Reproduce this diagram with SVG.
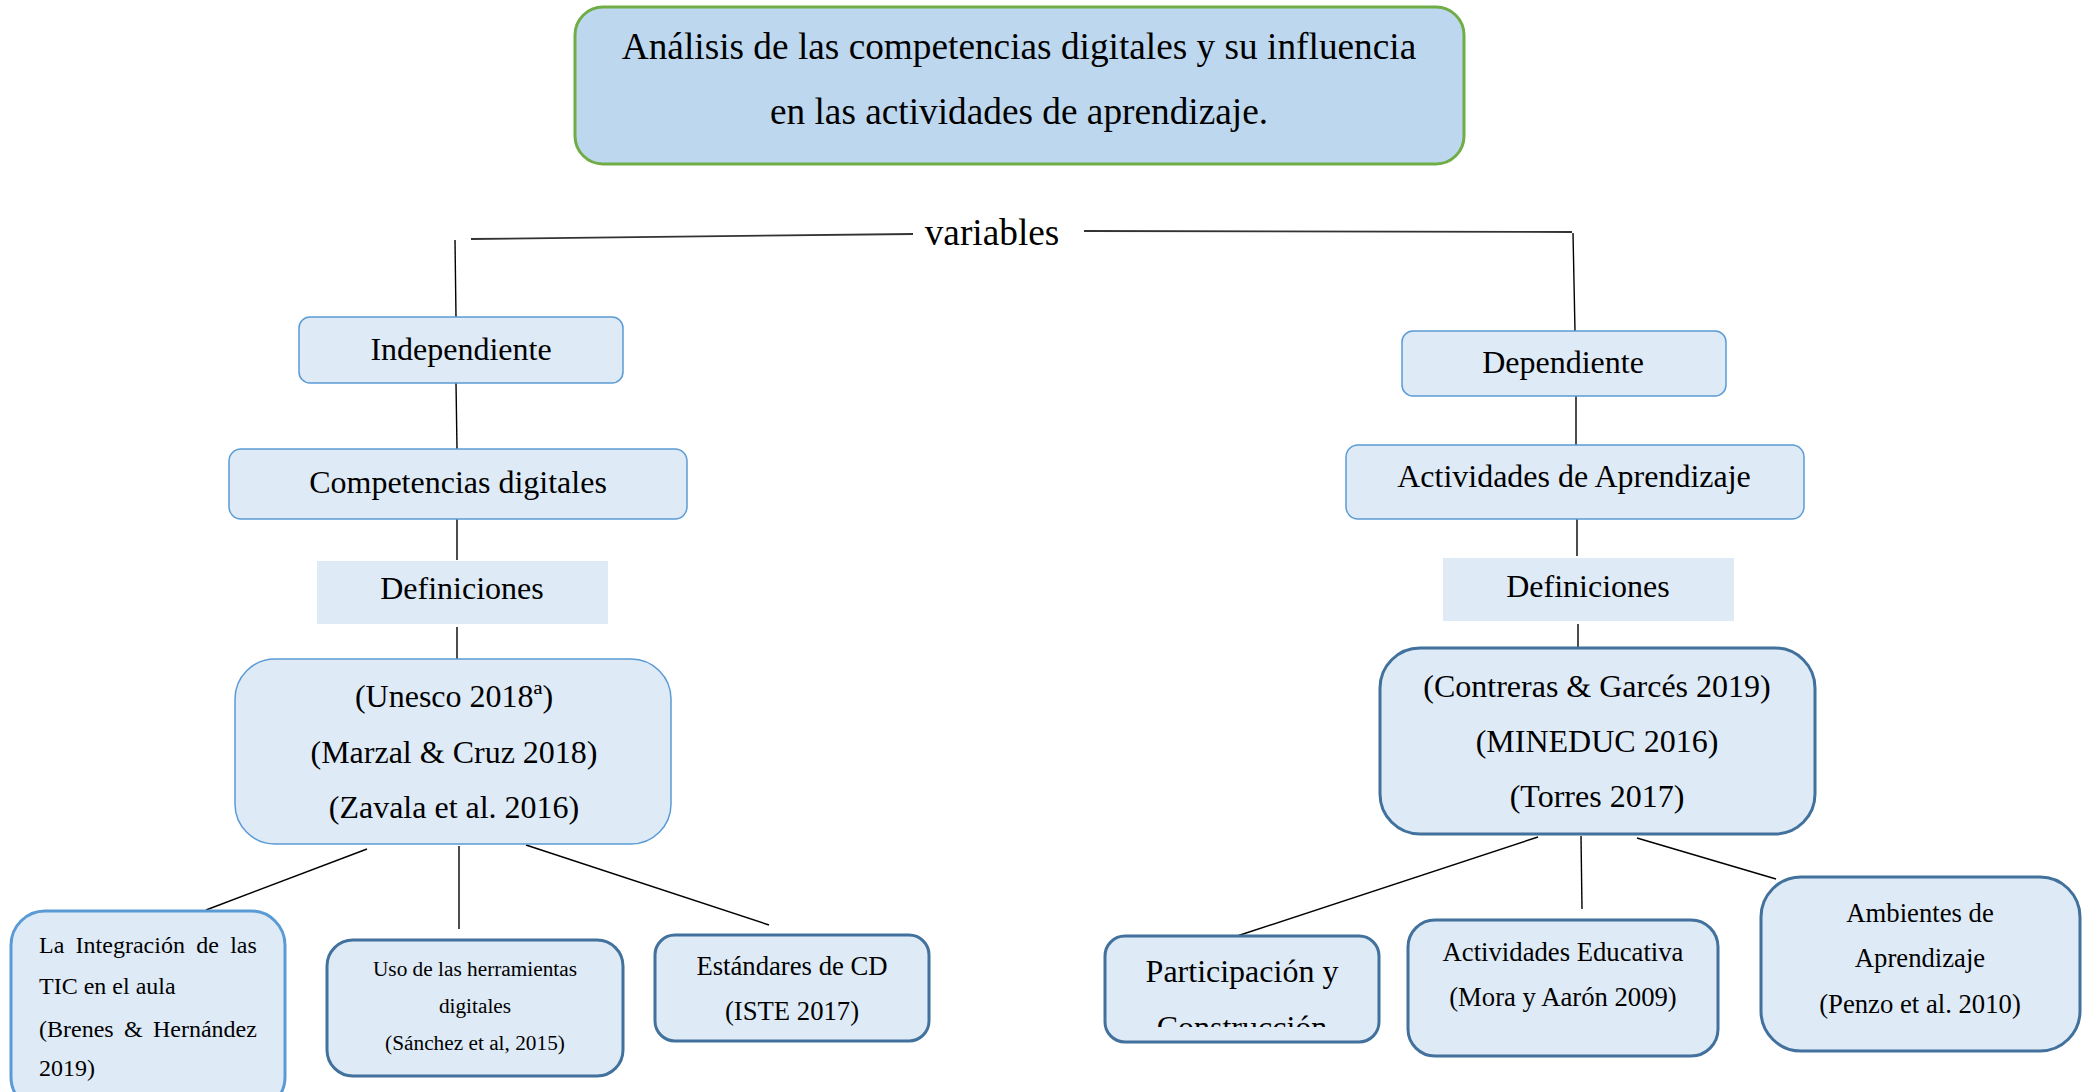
<svg xmlns="http://www.w3.org/2000/svg" width="2091" height="1092" viewBox="0 0 2091 1092">
<style>
text{font-family:"Liberation Serif","Times New Roman",serif;fill:#000}
.c{text-anchor:middle}
.f32{font-size:32px}
.f27{font-size:26.7px}
.f24{font-size:24px}
.f21{font-size:21.3px}
.lt{fill:#DEEAF6;stroke:#5B9BD5;stroke-width:1.5}
.md{fill:#DEEAF6;stroke:#5B9BD5;stroke-width:3}
.dk{fill:#DEEAF6;stroke:#41719C;stroke-width:3}
.pl{fill:#DEEAF6;stroke:none}
.ln{stroke:#000;stroke-width:1.4;fill:none}
.lg{stroke:#333;stroke-width:1.8;fill:none}
</style>
<defs>
<clipPath id="clipPart"><rect x="1105" y="936" width="274" height="91"/></clipPath>
</defs>
<rect width="2091" height="1092" fill="#fff"/>

<g id="connectors">
<line class="lg" x1="471" y1="239" x2="913" y2="234"/>
<line class="ln" x1="455" y1="240" x2="456" y2="317"/>
<line class="lg" x1="1084" y1="231" x2="1572" y2="232"/>
<line class="ln" x1="1573" y1="233" x2="1575" y2="331"/>
<line class="ln" x1="456" y1="383" x2="457" y2="449"/>
<line class="ln" x1="457" y1="519" x2="457" y2="560"/>
<line class="ln" x1="457" y1="627" x2="457" y2="659"/>
<line class="ln" x1="367" y1="849" x2="206" y2="910"/>
<line class="ln" x1="459" y1="846" x2="459" y2="929"/>
<line class="ln" x1="526" y1="845" x2="769" y2="925"/>
<line class="ln" x1="1576" y1="396" x2="1576" y2="445"/>
<line class="ln" x1="1577" y1="519" x2="1577" y2="556"/>
<line class="ln" x1="1578" y1="624" x2="1578" y2="648"/>
<line class="ln" x1="1538" y1="837" x2="1234" y2="937"/>
<line class="ln" x1="1581" y1="836" x2="1582" y2="909"/>
<line class="ln" x1="1637" y1="838" x2="1776" y2="879"/>
</g>

<g id="title">
<rect x="575" y="7" width="889" height="157" rx="28" fill="#BDD7EE" stroke="#70AD47" stroke-width="3"/>
<text class="c" x="1019" y="59" font-size="37.3">Análisis de las competencias digitales y su influencia</text>
<text class="c" x="1019" y="124" font-size="37.3">en las actividades de aprendizaje.</text>
</g>

<g id="variables">
<text class="c" x="992" y="245" font-size="37.3">variables</text>
</g>

<g id="independiente">
<rect class="lt" x="299" y="317" width="324" height="66" rx="11"/>
<text class="c f32" x="461" y="360">Independiente</text>
</g>

<g id="competencias">
<rect class="lt" x="229" y="449" width="458" height="70" rx="12"/>
<text class="c f32" x="458" y="493">Competencias digitales</text>
</g>

<g id="definiciones-izq">
<rect class="pl" x="317" y="561" width="291" height="63"/>
<text class="c f32" x="462" y="599">Definiciones</text>
</g>

<g id="unesco">
<rect class="lt" x="235" y="659" width="436" height="185" rx="40"/>
<text class="c f32" x="454" y="707">(Unesco 2018ª)</text>
<text class="c f32" x="454" y="763">(Marzal &amp; Cruz 2018)</text>
<text class="c f32" x="454" y="818">(Zavala et al. 2016)</text>
</g>

<g id="integracion">
<rect class="md" x="11" y="911" width="274" height="200" rx="34"/>
<text class="f24" x="39" y="953" word-spacing="5.3">La Integración de las</text>
<text class="f24" x="39" y="994">TIC en el aula</text>
<text class="f24" x="39" y="1037" word-spacing="4.3">(Brenes &amp; Hernández</text>
<text class="f24" x="39" y="1076">2019)</text>
</g>

<g id="herramientas">
<rect class="dk" x="327" y="940" width="296" height="136" rx="26"/>
<text class="c f21" x="475" y="976">Uso de las herramientas</text>
<text class="c f21" x="475" y="1013">digitales</text>
<text class="c f21" x="475" y="1050">(Sánchez et al, 2015)</text>
</g>

<g id="estandares">
<rect class="dk" x="655" y="935" width="274" height="106" rx="20"/>
<text class="c f27" x="792" y="975">Estándares de CD</text>
<text class="c f27" x="792" y="1020">(ISTE 2017)</text>
</g>

<g id="dependiente">
<rect class="lt" x="1402" y="331" width="324" height="65" rx="11"/>
<text class="c f32" x="1563" y="373">Dependiente</text>
</g>

<g id="actividades-aprendizaje">
<rect class="lt" x="1346" y="445" width="458" height="74" rx="12"/>
<text class="c f32" x="1574" y="487">Actividades de Aprendizaje</text>
</g>

<g id="definiciones-der">
<rect class="pl" x="1443" y="558" width="291" height="63"/>
<text class="c f32" x="1588" y="597">Definiciones</text>
</g>

<g id="contreras">
<rect class="dk" x="1380" y="648" width="435" height="186" rx="40"/>
<text class="c f32" x="1597" y="697">(Contreras &amp; Garcés 2019)</text>
<text class="c f32" x="1597" y="752">(MINEDUC 2016)</text>
<text class="c f32" x="1597" y="807">(Torres 2017)</text>
</g>

<g id="participacion">
<rect class="dk" x="1105" y="936" width="274" height="106" rx="20"/>
<g clip-path="url(#clipPart)">
<text class="c f32" x="1242" y="982">Participación y</text>
<text class="c f32" x="1242" y="1038">Construcción</text>
</g>
</g>

<g id="actividades-educativa">
<rect class="dk" x="1408" y="920" width="310" height="136" rx="27"/>
<text class="c f27" x="1563" y="961">Actividades Educativa</text>
<text class="c f27" x="1563" y="1006">(Mora y Aarón 2009)</text>
</g>

<g id="ambientes">
<rect class="dk" x="1761" y="877" width="319" height="174" rx="40"/>
<text class="c f27" x="1920" y="922">Ambientes de</text>
<text class="c f27" x="1920" y="967">Aprendizaje</text>
<text class="c f27" x="1920" y="1013">(Penzo et al. 2010)</text>
</g>
</svg>
